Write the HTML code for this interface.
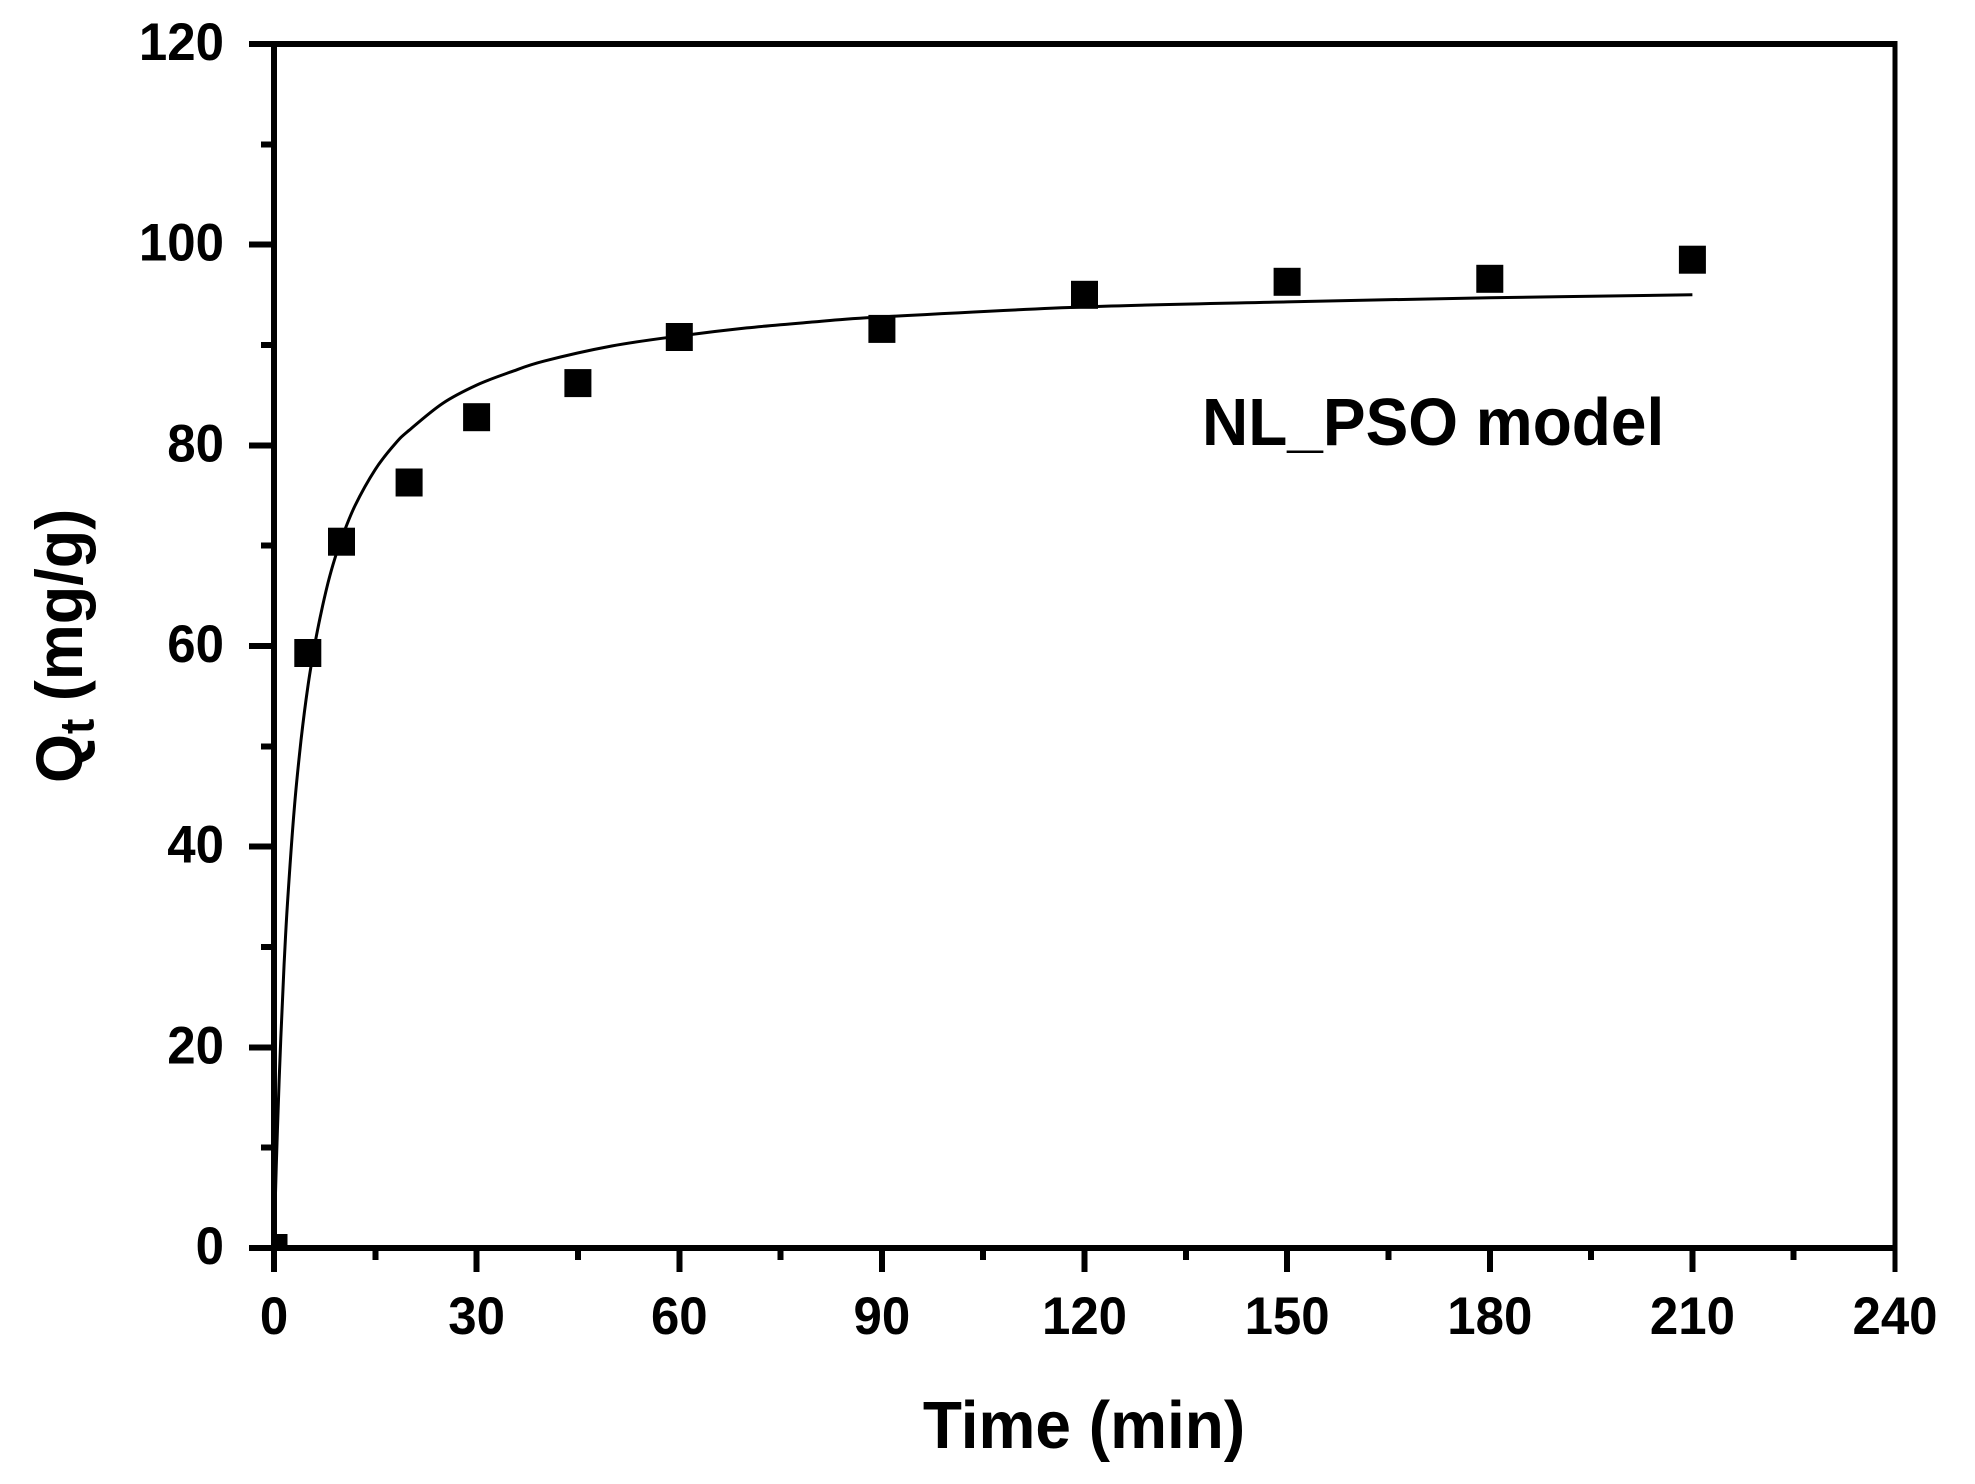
<!DOCTYPE html>
<html>
<head>
<meta charset="utf-8">
<title>NL_PSO model chart</title>
<style>
html,body{margin:0;padding:0;background:#fff;width:1975px;height:1484px;overflow:hidden}
svg{display:block}
text{font-family:"Liberation Sans",Arial,sans-serif;font-weight:bold;fill:#000}
</style>
</head>
<body>
<svg id="chart" xmlns="http://www.w3.org/2000/svg" width="1975" height="1484" viewBox="0 0 1975 1484">
  <rect width="1975" height="1484" fill="#fff"/>
  <defs><clipPath id="plot-clip"><rect x="274" y="44" width="1621" height="1204"/></clipPath></defs>
  <g id="curve-layer"></g>
  <g id="points-layer" clip-path="url(#plot-clip)"></g>
  <g id="axes-layer"></g>
  <text transform="translate(1084 1448) scale(1 1.05)" font-size="64" text-anchor="middle">Time (min)</text>
  <text transform="translate(82 783) rotate(-90) scale(1 1.05)" font-size="63">Q<tspan font-size="46" dy="11">t</tspan><tspan dy="-11"> (mg/g)</tspan></text>
  <text transform="translate(1202 445) scale(1 1.05)" font-size="64">NL_PSO model</text>
</svg>
<script>
const sampleTimes = [0, 5, 10, 20, 30, 45, 60, 90, 120, 150, 180, 210];
const sampleQt = [0, 59.3, 70.4, 76.3, 82.8, 86.2, 90.8, 91.6, 95.0, 96.3, 96.6, 98.5];
const fitTimes = [0, 0.25, 0.5, 1, 1.5, 2, 3, 4, 5, 6, 7, 8, 9, 10, 12, 15, 18, 20, 25, 30, 35, 40, 50, 60, 70, 80, 90, 120, 150, 180, 210];
const fitQt = [0, 6.2, 11.7, 20.9, 28.3, 34.4, 43.8, 50.6, 55.9, 60.0, 63.4, 66.3, 68.7, 70.7, 74.0, 77.6, 80.2, 81.5, 84.2, 86.0, 87.3, 88.4, 89.9, 90.9, 91.7, 92.3, 92.8, 93.8, 94.3, 94.7, 95.0];
const xTickValues = [0, 30, 60, 90, 120, 150, 180, 210, 240];
const xMinorValues = [15, 45, 75, 105, 135, 165, 195, 225];
const yTickValues = [0, 20, 40, 60, 80, 100, 120];
const yMinorValues = [10, 30, 50, 70, 90, 110];

const plotLeft = 274, plotRight = 1895, plotTop = 44, plotBottom = 1248;
const xMax = 240, yMax = 120;
const NS = 'http://www.w3.org/2000/svg';
function xScale(v) { return plotLeft + (v / xMax) * (plotRight - plotLeft); }
function yScale(v) { return plotBottom - (v / yMax) * (plotBottom - plotTop); }

const axes = document.getElementById('axes-layer');
const curveLayer = document.getElementById('curve-layer');
const pointsLayer = document.getElementById('points-layer');

function makeLine(x1, y1, x2, y2, w) {
  const l = document.createElementNS(NS, 'line');
  l.setAttribute('x1', x1);
  l.setAttribute('y1', y1);
  l.setAttribute('x2', x2);
  l.setAttribute('y2', y2);
  l.setAttribute('stroke', '#000');
  l.setAttribute('stroke-width', w);
  l.setAttribute('shape-rendering', 'crispEdges');
  return l;
}

function smoothPath(px, py) {
  let d = 'M' + px[0].toFixed(1) + ' ' + py[0].toFixed(1);
  for (let i = 0; i < px.length - 1; i++) {
    const a = Math.max(i - 1, 0), b = Math.min(i + 2, px.length - 1);
    const c1x = px[i] + (px[i + 1] - px[a]) / 6, c1y = py[i] + (py[i + 1] - py[a]) / 6;
    const c2x = px[i + 1] - (px[b] - px[i]) / 6, c2y = py[i + 1] - (py[b] - py[i]) / 6;
    d += ' C' + c1x.toFixed(1) + ' ' + c1y.toFixed(1) + ' ' + c2x.toFixed(1) + ' ' + c2y.toFixed(1) + ' ' + px[i + 1].toFixed(1) + ' ' + py[i + 1].toFixed(1);
  }
  return d;
}

const curve = document.createElementNS(NS, 'path');


curve.setAttribute('fill', 'none');
curve.setAttribute('stroke', '#000');
curve.setAttribute('stroke-width', '3');
curve.setAttribute('d', smoothPath(fitTimes.map(xScale), fitQt.map(yScale)));
curveLayer.appendChild(curve);

sampleTimes.forEach((t, i) => {
  const r = document.createElementNS(NS, 'rect');
  
  
  r.setAttribute('x', (xScale(t) - 13.5).toFixed(1));
  r.setAttribute('y', (yScale(sampleQt[i]) - 14).toFixed(1));
  r.setAttribute('width', '27');
  r.setAttribute('height', '28');
  r.setAttribute('fill', '#000');
  pointsLayer.appendChild(r);
});

const leftAxis = makeLine(plotLeft, plotTop - 3, plotLeft, plotBottom + 24, 6);


axes.appendChild(leftAxis);
const rightAxis = makeLine(plotRight, plotTop - 3, plotRight, plotBottom + 24, 5);


axes.appendChild(rightAxis);
const bottomAxis = makeLine(plotLeft - 25, plotBottom, plotRight, plotBottom, 6);


axes.appendChild(bottomAxis);
const topAxis = makeLine(plotLeft - 25, plotTop, plotRight + 2, plotTop, 6);


axes.appendChild(topAxis);

function makeLabel(str, x, y, anchor) {
  const t = document.createElementNS(NS, 'text');
  t.setAttribute('transform', 'translate(' + x.toFixed(1) + ' ' + y.toFixed(1) + ') scale(1 1.04)');
  t.setAttribute('font-size', '51');
  t.setAttribute('text-anchor', anchor);
  t.textContent = str;
  return t;
}

xTickValues.forEach(v => {
  const px = xScale(v);
  if (v !== 0 && v !== xMax) {
    const tick = makeLine(px, plotBottom, px, plotBottom + 24, 6);
    
    
    axes.appendChild(tick);
  }
  const label = makeLabel(String(v), px, 1334, 'middle');
  
  
  axes.appendChild(label);
});
xMinorValues.forEach(v => {
  const px = xScale(v);
  const tick = makeLine(px, plotBottom, px, plotBottom + 12, 6);
  
  
  axes.appendChild(tick);
});
yTickValues.forEach(v => {
  const py = yScale(v);
  if (v !== 0 && v !== yMax) {
    const tick = makeLine(plotLeft - 25, py, plotLeft, py, 6);
    
    
    axes.appendChild(tick);
  }
  const label = makeLabel(String(v), 224, py + 16, 'end');
  
  
  axes.appendChild(label);
});
yMinorValues.forEach(v => {
  const py = yScale(v);
  const tick = makeLine(plotLeft - 13, py, plotLeft, py, 6);
  
  
  axes.appendChild(tick);
});
</script>
</body>
</html>
